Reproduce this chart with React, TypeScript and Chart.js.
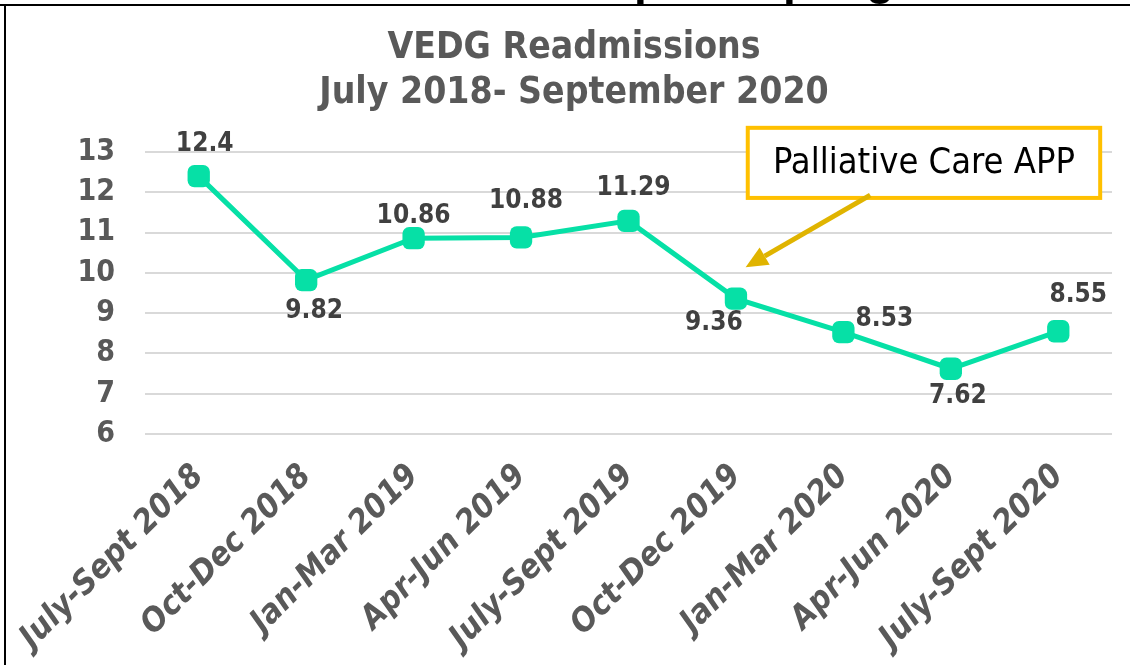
import React, { useEffect, useRef } from "react";
import { Chart, registerables } from "chart.js";

Chart.register(...registerables);

const categories = [
  "July-Sept 2018",
  "Oct-Dec 2018",
  "Jan-Mar 2019",
  "Apr-Jun 2019",
  "July-Sept 2019",
  "Oct-Dec 2019",
  "Jan-Mar 2020",
  "Apr-Jun 2020",
  "July-Sept 2020",
];
const readmissions = [12.4, 9.82, 10.86, 10.88, 11.29, 9.36, 8.53, 7.62, 8.55];
const valueLabels = ["12.4", "9.82", "10.86", "10.88", "11.29", "9.36", "8.53", "7.62", "8.55"];
const yTicks = [6, 7, 8, 9, 10, 11, 12, 13];
const titleLines = ["VEDG Readmissions", "July 2018- September 2020"];
const annotationText = "Palliative Care APP";

// label offsets (px) relative to each point, as in the reference
const labelOffsets: [number, number][] = [
  [6, -32],
  [8, 31],
  [0, -22],
  [5, -36],
  [5, -33],
  [-22, 25],
  [41, -13],
  [7, 28],
  [20, -36],
];

const TEAL = "#06E0A6";
const GREY = "#595959";
const COND = "'DejaVu Sans Condensed', 'DejaVu Sans'";

export default function App() {
  const ref = useRef<HTMLCanvasElement | null>(null);
  useEffect(() => {
    const canvas = ref.current!;
    const framePlugin = {
      id: "frame",
      afterDraw(chart: any) {
        const ctx = chart.ctx;
        ctx.save();
        ctx.fillStyle = "#000";
        ctx.font = "bold 46px 'Liberation Sans'";
        ctx.textBaseline = "alphabetic";
        ctx.textAlign = "left";
        ctx.fillText("p", 634, -6);
        ctx.fillText("p", 783, -6);
        ctx.fillText("g", 866, -6);
        ctx.fillRect(0, 4, chart.width, 2);
        ctx.fillRect(4, 4, 2, chart.height);
        ctx.restore();
      },
    };
    const labelsPlugin = {
      id: "vlabels",
      afterDatasetsDraw(chart: any) {
        const ctx = chart.ctx;
        const meta = chart.getDatasetMeta(0);
        ctx.save();
        ctx.font = `bold 26px ${COND}`;
        ctx.fillStyle = "#404040";
        ctx.textAlign = "center";
        ctx.textBaseline = "middle";
        meta.data.forEach((pt: any, i: number) => {
          const [dx, dy] = labelOffsets[i];
          ctx.fillText(valueLabels[i], pt.x + dx, pt.y + dy);
        });
        const xs = chart.scales.x;
        const ys = chart.scales.y;
        const l = xs.getPixelForValue(5.11);
        const r = xs.getPixelForValue(8.39);
        const t = ys.getPixelForValue(13.6);
        const b = ys.getPixelForValue(11.86);
        ctx.fillStyle = "#fff";
        ctx.fillRect(l, t, r - l, b - t);
        ctx.strokeStyle = "#FFC000";
        ctx.lineWidth = 4;
        ctx.strokeRect(l, t, r - l, b - t);
        ctx.fillStyle = "#000";
        ctx.font = `36px ${COND}`;
        ctx.fillText(annotationText, (l + r) / 2, (t + b) / 2 + 1, 304);
        const ax0 = xs.getPixelForValue(6.25);
        const ay0 = ys.getPixelForValue(11.93);
        const ax1 = xs.getPixelForValue(5.09);
        const ay1 = ys.getPixelForValue(10.14);
        const ang = Math.atan2(ay1 - ay0, ax1 - ax0);
        const head = 22;
        const hx = ax1 - Math.cos(ang) * head;
        const hy = ay1 - Math.sin(ang) * head;
        ctx.strokeStyle = "#E0B400";
        ctx.lineWidth = 5;
        ctx.beginPath();
        ctx.moveTo(ax0, ay0);
        ctx.lineTo(hx, hy);
        ctx.stroke();
        ctx.fillStyle = "#E0B400";
        ctx.beginPath();
        ctx.moveTo(ax1, ay1);
        ctx.lineTo(hx + Math.cos(ang + Math.PI / 2) * 10, hy + Math.sin(ang + Math.PI / 2) * 10);
        ctx.lineTo(hx + Math.cos(ang - Math.PI / 2) * 10, hy + Math.sin(ang - Math.PI / 2) * 10);
        ctx.closePath();
        ctx.fill();
        ctx.restore();
      },
    };
    const chart = new Chart(canvas, {
      type: "line",
      data: {
        labels: categories,
        datasets: [
          {
            data: readmissions,
            borderColor: TEAL,
            backgroundColor: TEAL,
            borderWidth: 5,
            pointStyle: "rectRounded",
            pointRadius: 13,
            pointBorderWidth: 0,
            pointBackgroundColor: TEAL,
            tension: 0,
          },
        ],
      },
      options: {
        responsive: false,
        animation: false,
        layout: { padding: { left: 36, right: 18, top: 0, bottom: 0 } },
        plugins: {
          legend: { display: false },
          tooltip: { enabled: false },
          title: {
            display: true,
            text: titleLines,
            color: GREY,
            font: { family: COND, size: 37, weight: "bold", lineHeight: 45 / 37 },
            padding: { top: 26, bottom: 36 },
          },
        },
        scales: {
          x: {
            offset: true,
            grid: { display: false },
            border: { display: false },
            afterFit: (scale: any) => {
              scale.height = 231;
            },
            ticks: {
              color: GREY,
              maxRotation: 45,
              minRotation: 45,
              padding: 15,
              font: { family: COND, size: 33, weight: "bold", style: "italic" },
            },
          },
          y: {
            min: 6,
            max: 13,
            afterBuildTicks: (axis: any) => {
              axis.ticks = yTicks.map((v) => ({ value: v }));
            },
            afterFit: (scale: any) => {
              scale.width = 109;
            },
            grid: { color: "#D9D9D9", lineWidth: 2, drawTicks: false },
            border: { display: false },
            ticks: {
              color: GREY,
              padding: 30,
              font: { family: COND, size: 30, weight: "bold" },
            },
          },
        },
      },
      plugins: [framePlugin, labelsPlugin],
    } as any);
    return () => chart.destroy();
  }, []);
  return (
    <div style={{ position: "fixed", left: 0, top: 0, width: 1130, height: 665, background: "#fff" }}>
      <canvas ref={ref} width={1130} height={665} />
    </div>
  );
}
